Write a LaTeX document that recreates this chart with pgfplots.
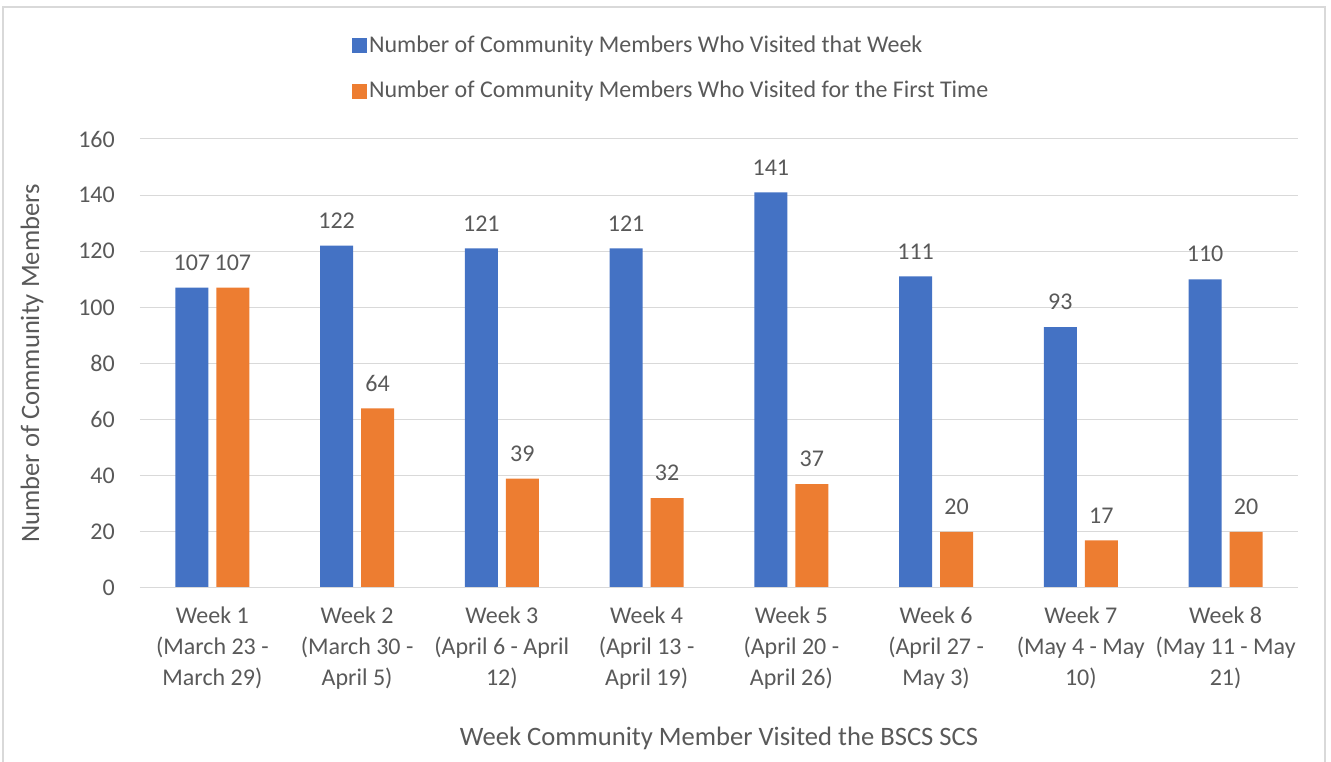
\documentclass[border=0pt]{standalone}
\usepackage{pgfplots}
\pgfplotsset{compat=1.18}
\usepackage{fontspec}
\setmainfont{Carlito}
\definecolor{cblue}{HTML}{4472C4}
\definecolor{corange}{HTML}{ED7D31}
\definecolor{cgrid}{HTML}{D9D9D9}
\definecolor{ctext}{HTML}{595959}
\begin{document}
\fontsize{24pt}{31pt}\selectfont
\begin{tikzpicture}[x=1pt,y=1pt]
\useasboundingbox (0,0) rectangle (1331,762);
\draw[cgrid, line width=1.5pt] (3,-20) rectangle (1325,755);
\begin{axis}[
  at={(140pt,174pt)}, anchor=south west,
  scale only axis, width=1158pt, height=449pt,
  xmin=-0.5, xmax=7.5, ymin=0, ymax=160,
  ybar=8pt, bar width=33pt,
  axis line style={draw=none},
  ytick={0,20,...,160},
  ymajorgrids, grid style={cgrid, line width=1pt},
  major tick length=0pt,
  xtick={0,...,7},
  xticklabels={{Week 1\\(March 23 -\\March 29)},{Week 2\\(March 30 -\\April 5)},{Week 3\\(April 6 - April\\12)},{Week 4\\(April 13 -\\April 19)},{Week 5\\(April 20 -\\April 26)},{Week 6\\(April 27 -\\May 3)},{Week 7\\(May 4 - May\\10)},{Week 8\\(May 11 - May\\21)}},
  xticklabel style={align=center, text=ctext, font=\fontsize{24pt}{31pt}\selectfont, yshift=-11pt},
  yticklabel style={text=ctext, font=\fontsize{24pt}{31pt}\selectfont, xshift=-17pt},
  /pgf/number format/assume math mode=true,
  ylabel={Number of Community Members},
  ylabel style={text=ctext, font=\fontsize{26.6pt}{30pt}\selectfont, at={(axis description cs:-0.0933,0.5)}, anchor=center},
  xlabel={Week Community Member Visited the BSCS SCS},
  xlabel style={text=ctext, font=\fontsize{26.6pt}{30pt}\selectfont, at={(axis description cs:0.5,-0.336)}, anchor=center},
  nodes near coords,
  every node near coord/.append style={text=ctext, font=\fontsize{24pt}{28pt}\selectfont, yshift=9pt},
  legend style={at={(rel axis cs:0.183,1.235)}, anchor=north west, draw=none, fill=none,
    text=ctext, font=\fontsize{24pt}{28pt}\selectfont, row sep=21pt, inner sep=0pt,
    /tikz/every even column/.append style={column sep=4pt}},
  legend cell align=left,
  legend image code/.code={\fill[#1] (0pt,-7.5pt) rectangle (15pt,7.5pt);},
]
\addplot[fill=cblue, draw=none] coordinates {(0,107) (1,122) (2,121) (3,121) (4,141) (5,111) (6,93) (7,110)};
\addplot[fill=corange, draw=none] coordinates {(0,107) (1,64) (2,39) (3,32) (4,37) (5,20) (6,17) (7,20)};
\draw[cgrid, line width=1pt] (rel axis cs:0,0) -- (rel axis cs:1,0);
\legend{Number of Community Members Who Visited that Week, Number of Community Members Who Visited for the First Time}
\end{axis}
\end{tikzpicture}
\end{document}
